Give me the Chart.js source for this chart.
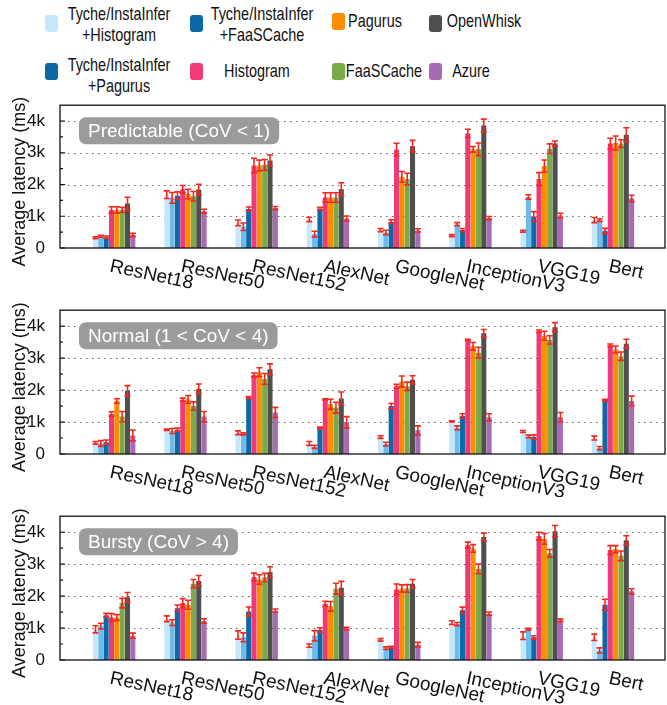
<!DOCTYPE html>
<html>
<head>
<meta charset="utf-8">
<script src="https://cdn.jsdelivr.net/npm/chart.js@4.4.0/dist/chart.umd.min.js"></script>
<style>
  body { margin: 0; background: #fff; }
  #wrap { position: relative; width: 667px; height: 705px; font-family: "Liberation Sans", Arial, sans-serif; color: #111; }
  #wrap canvas { position: absolute; left: 0; }
  .sw { position: absolute; width: 13px; height: 17px; border-radius: 3px; }
  .lt { position: absolute; font-size: 19px; line-height: 21px; white-space: nowrap; text-align: center; transform: translateX(-50%) scaleX(0.76); }
</style>
</head>
<body>
<div id="wrap">
  <div id="legend"></div>
  <canvas id="predChart" width="667" height="204" style="top:88px"></canvas>
  <canvas id="normChart" width="667" height="204" style="top:293px"></canvas>
  <canvas id="burstChart" width="667" height="206" style="top:499px"></canvas>
</div>
<script>
// data
const categories = ['ResNet18', 'ResNet50', 'ResNet152', 'AlexNet', 'GoogleNet', 'InceptionV3', 'VGG19', 'Bert'];
const seriesNames = [
  'Tyche/InstaInfer\n+Histogram', 'Tyche/InstaInfer\n+Pagurus', 'Tyche/InstaInfer\n+FaaSCache',
  'Histogram', 'Pagurus', 'FaaSCache', 'OpenWhisk', 'Azure'
];
const yTickValues = [0, 1000, 2000, 3000, 4000];
const barColors = ['#c6e7f9', '#6cbbef', '#0b69a8', '#ee3b77', '#fd8d00', '#7aa94a', '#4f4f4f', '#a86ab5'];
// legend swatches as printed in the figure (both Tyche blues look dark there)
const legendColors = ['#c6e7f9', '#0b69a8', '#0b69a8', '#ee3b77', '#fd8d00', '#7aa94a', '#4f4f4f', '#a86ab5'];

// one row per series, in seriesNames order (ms)
const predictableMeans = [
  [320, 1680, 790, 900, 565, 390, 530, 880],
  [370, 1580, 670, 440, 490, 750, 1610, 880],
  [340, 1650, 1230, 1240, 830, 565, 995, 540],
  [1200, 1850, 2600, 1590, 3100, 3610, 2175, 3290],
  [1200, 1700, 2600, 1590, 2240, 3110, 2585, 3310],
  [1200, 1630, 2620, 1590, 2175, 3110, 3130, 3290],
  [1400, 1840, 2760, 1855, 3210, 3860, 3290, 3570],
  [410, 1160, 1260, 930, 555, 945, 1025, 1560]
];
const predictableErrors = [
  [30, 120, 90, 70, 50, 30, 30, 80],
  [30, 170, 120, 90, 70, 50, 70, 40],
  [40, 120, 60, 40, 60, 50, 150, 80],
  [100, 120, 230, 150, 200, 130, 200, 170],
  [100, 150, 170, 150, 170, 90, 190, 220],
  [80, 150, 170, 150, 180, 200, 150, 120],
  [200, 170, 170, 200, 180, 200, 80, 220],
  [50, 60, 50, 80, 50, 50, 70, 100]
];

const normalMeans = [
  [350, 760, 665, 330, 530, 1020, 705, 500],
  [330, 720, 630, 225, 310, 820, 550, 185],
  [370, 760, 1770, 810, 1500, 1190, 530, 1680],
  [1250, 1700, 2475, 1710, 2120, 3570, 3840, 3400],
  [1660, 1710, 2560, 1555, 2270, 3370, 3700, 3270],
  [1170, 1500, 2350, 1450, 2120, 3170, 3570, 3060],
  [1980, 2040, 2650, 1740, 2320, 3775, 3970, 3450],
  [580, 1170, 1300, 990, 740, 1150, 1150, 1660]
];
const normalErrors = [
  [40, 20, 60, 60, 40, 20, 30, 60],
  [90, 80, 30, 50, 60, 60, 40, 50],
  [70, 50, 30, 30, 80, 70, 70, 30],
  [70, 50, 60, 20, 60, 20, 40, 40],
  [70, 120, 140, 160, 170, 120, 140, 110],
  [160, 130, 170, 170, 130, 170, 130, 130],
  [160, 150, 170, 200, 130, 120, 140, 140],
  [170, 160, 160, 180, 140, 110, 150, 150]
];

const burstyMeans = [
  [960, 1290, 780, 450, 630, 1170, 760, 710],
  [1060, 1170, 710, 760, 370, 1125, 960, 300],
  [1400, 1620, 1520, 940, 400, 1555, 710, 1730],
  [1330, 1780, 2600, 1760, 2210, 3600, 3880, 3440],
  [1330, 1730, 2520, 1680, 2240, 3490, 3790, 3470],
  [1780, 2390, 2580, 2230, 2240, 2850, 3340, 3260],
  [1960, 2475, 2750, 2260, 2390, 3850, 4030, 3750],
  [760, 1220, 1545, 980, 480, 1450, 1240, 2150]
];
const burstyErrors = [
  [110, 90, 130, 50, 40, 60, 120, 100],
  [90, 90, 140, 160, 40, 50, 30, 80],
  [60, 100, 140, 70, 30, 100, 50, 170],
  [120, 140, 120, 80, 170, 90, 120, 140],
  [90, 140, 150, 150, 110, 120, 170, 110],
  [150, 130, 130, 170, 120, 150, 120, 150],
  [150, 170, 170, 200, 130, 120, 180, 140],
  [80, 70, 50, 40, 70, 50, 40, 80]
];

const FONT = '"Liberation Sans", Arial, sans-serif';

// legend (html, laid out like the figure)
const legendSlots = [
  { sx: 45, sy: 15, cx: 118.5 }, { sx: 45, sy: 63, cx: 118.5 },
  { sx: 190, sy: 15, cx: 261.5 }, { sx: 190, sy: 63, cx: 256.5 },
  { sx: 332, sy: 13, cx: 375 }, { sx: 332, sy: 63, cx: 383.5 },
  { sx: 429, sy: 15, cx: 484 }, { sx: 429, sy: 63, cx: 470.5 }
];
const legendEl = document.getElementById('legend');
seriesNames.forEach((name, i) => {
  const slot = legendSlots[i];
  const two = name.includes('\n');
  const sw = document.createElement('div');
  sw.className = 'sw';
  sw.style.left = slot.sx + 'px';
  sw.style.top = slot.sy + 'px';
  sw.style.background = legendColors[i];
  legendEl.appendChild(sw);
  const lt = document.createElement('div');
  lt.className = 'lt';
  lt.style.left = slot.cx + 'px';
  lt.style.top = (slot.sy < 40 ? (two ? 3 : 10) : (two ? 54 : 60)) + 'px';
  lt.innerHTML = name.replace('\n', '<br>');
  legendEl.appendChild(lt);
});

// grid, frame, error bars, labels
const panelDecor = {
  id: 'panelDecor',
  beforeDatasetsDraw(chart) {
    const { ctx, chartArea: a } = chart;
    const ys = chart.scales.y;
    ctx.save();
    ctx.strokeStyle = '#666';
    ctx.lineWidth = 1;
    ctx.setLineDash([1.5, 4.5]);
    ys.ticks.forEach(t => {
      if (t.value === 0) return;
      const y = Math.round(ys.getPixelForValue(t.value)) + 0.5;
      ctx.beginPath();
      ctx.moveTo(a.left + 8, y);
      ctx.lineTo(a.right, y);
      ctx.stroke();
    });
    ctx.restore();
  },
  afterDatasetsDraw(chart, args, opts) {
    const { ctx, chartArea: a } = chart;
    const ys = chart.scales.y;
    const xs = chart.scales.x;
    ctx.save();

    // error bars
    ctx.strokeStyle = '#f2291c';
    ctx.lineWidth = 1.6;
    chart.data.datasets.forEach((ds, s) => {
      const meta = chart.getDatasetMeta(s);
      meta.data.forEach((bar, i) => {
        const v = ds.data[i].y, e = ds.errors[i];
        const y1 = ys.getPixelForValue(v + e), y2 = ys.getPixelForValue(v - e);
        ctx.beginPath();
        ctx.moveTo(bar.x, y1); ctx.lineTo(bar.x, y2);
        ctx.moveTo(bar.x - 3, y1); ctx.lineTo(bar.x + 3, y1);
        ctx.moveTo(bar.x - 3, y2); ctx.lineTo(bar.x + 3, y2);
        ctx.stroke();
      });
    });

    // tag box
    ctx.font = '19px ' + FONT;
    const tw = ctx.measureText(opts.tag).width;
    const bx = a.left + 19, by = a.top + 12, bw = tw + 18, bh = 27;
    ctx.fillStyle = '#9b9b9b';
    ctx.beginPath();
    ctx.roundRect(bx, by, bw, bh, 7);
    ctx.fill();
    ctx.fillStyle = '#fff';
    ctx.textAlign = 'center';
    ctx.textBaseline = 'middle';
    ctx.fillText(opts.tag, bx + bw / 2, by + bh / 2 + 1);

    // frame and inner ticks
    ctx.strokeStyle = '#111';
    ctx.lineWidth = 1.3;
    ctx.strokeRect(a.left, a.top, a.right - a.left, a.bottom - a.top);
    ctx.lineWidth = 1.2;
    ys.ticks.forEach(t => {
      const y = ys.getPixelForValue(t.value);
      ctx.beginPath();
      ctx.moveTo(a.left, y); ctx.lineTo(a.left + 5, y);
      const ym = ys.getPixelForValue(t.value + 500);
      if (t.value + 500 < ys.max) { ctx.moveTo(a.left, ym); ctx.lineTo(a.left + 3, ym); }
      ctx.stroke();
    });

    // category labels, tilted down
    ctx.fillStyle = '#111';
    ctx.font = '19px ' + FONT;
    ctx.textAlign = 'left';
    ctx.textBaseline = 'top';
    categories.forEach((c, i) => {
      ctx.save();
      ctx.translate(xs.getPixelForValue(i) - 2, a.bottom + 9);
      ctx.rotate(12 * Math.PI / 180);
      ctx.fillText(c, 0, 0);
      ctx.restore();
    });

    // y title
    ctx.save();
    ctx.font = '18px ' + FONT;
    ctx.textAlign = 'center';
    ctx.textBaseline = 'middle';
    ctx.translate(20, (a.top + a.bottom) / 2 + 5);
    ctx.rotate(-Math.PI / 2);
    ctx.fillText('Average latency (ms)', 0, 0);
    ctx.restore();

    ctx.restore();
  }
};

function makePanel(id, means, errs, tag, padBottom) {
  const datasets = seriesNames.map((name, s) => ({
    label: name.replace('\n', ' '),
    data: categories.map((c, i) => ({ x: i, y: means[s][i] })),
    errors: errs[s],
    backgroundColor: barColors[s],
    borderWidth: 0,
    categoryPercentage: 0.82,
    barPercentage: 0.95
  }));
  return new Chart(document.getElementById(id), {
    type: 'bar',
    data: { datasets },
    options: {
      responsive: false,
      animation: false,
      layout: { padding: { top: 14, bottom: padBottom, left: 0, right: 2 } },
      plugins: {
        legend: { display: false },
        tooltip: { enabled: false },
        panelDecor: { tag }
      },
      scales: {
        x: { type: 'linear', offset: false, min: -0.76, max: 7.73, display: false },
        y: {
          min: 0,
          max: 4500,
          afterBuildTicks: s => { s.ticks = yTickValues.map(v => ({ value: v })); },
          afterFit: s => { s.width = 60; },
          grid: { display: false },
          border: { display: false },
          ticks: {
            autoSkip: false,
            padding: 7,
            color: '#111',
            font: { size: 17, family: FONT },
            callback: v => v === 0 ? '0' : (v / 1000) + 'k'
          }
        }
      }
    },
    plugins: [panelDecor]
  });
}

makePanel('predChart', predictableMeans, predictableErrors, 'Predictable (CoV < 1)', 44);
makePanel('normChart', normalMeans, normalErrors, 'Normal (1 < CoV < 4)', 43);
makePanel('burstChart', burstyMeans, burstyErrors, 'Bursty (CoV > 4)', 45);
</script>
</body>
</html>
